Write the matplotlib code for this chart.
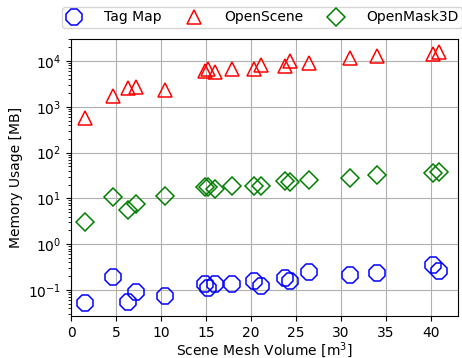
import numpy as np
import matplotlib
matplotlib.use("Agg")
import matplotlib.pyplot as plt

# scene mesh volumes [m^3]
volume = [1.6, 4.7, 6.3, 7.2, 10.4, 14.9, 15.2, 16.0, 17.9, 20.3, 21.1,
          23.8, 24.3, 26.5, 31.0, 34.0, 40.2, 40.9]

# memory usage [MB]
tag_map = [0.053, 0.195, 0.056, 0.09, 0.074, 0.133, 0.11, 0.135, 0.135,
           0.155, 0.125, 0.185, 0.155, 0.245, 0.21, 0.23, 0.35, 0.26]
openscene = [560, 1700, 2500, 2700, 2350, 6150, 6600, 5800, 6600, 6500,
             8200, 7900, 9700, 8900, 11800, 12800, 14000, 15500]
openmask3d = [3.0, 10.5, 5.6, 7.4, 11.2, 17.4, 18.0, 16.0, 19.0, 19.0,
              18.8, 23.8, 23.0, 25.0, 27.6, 32.5, 35.0, 37.0]


def main():
    fig, ax = plt.subplots(figsize=(4.62, 3.58), dpi=100)

    ax.plot(volume, tag_map, linestyle="none", marker="8", markersize=12.5,
            markerfacecolor="none", markeredgecolor="blue", markeredgewidth=1.1,
            label="Tag Map")
    ax.plot(volume, openscene, linestyle="none", marker="^", markersize=10.5,
            markerfacecolor="none", markeredgecolor="red", markeredgewidth=1.1,
            label="OpenScene")
    ax.plot(volume, openmask3d, linestyle="none", marker="D", markersize=9.5,
            markerfacecolor="none", markeredgecolor="green", markeredgewidth=1.1,
            label="OpenMask3D")

    ax.set_yscale("log")
    ax.set_xlim(0, 43)
    ax.set_ylim(0.027, 30000)
    ax.set_xticks(np.arange(0, 45, 5))
    ax.grid(True, which="major", color="#b0b0b0", linewidth=0.8)
    ax.set_axisbelow(True)

    ax.set_xlabel("Scene Mesh Volume [m$^3$]", fontsize=10, labelpad=0)
    ax.set_ylabel("Memory Usage [MB]", fontsize=10)
    ax.tick_params(labelsize=10)

    ax.legend(loc="lower left", bbox_to_anchor=(-0.023, 1.04), ncol=3,
              fontsize=10, borderaxespad=0, borderpad=0.25,
              handlelength=1.2, handletextpad=1.6, columnspacing=1.7)

    fig.subplots_adjust(left=0.1537, right=0.9913, bottom=0.117, top=0.891)
    fig.savefig("out.png", dpi=100)


if __name__ == "__main__":
    main()
